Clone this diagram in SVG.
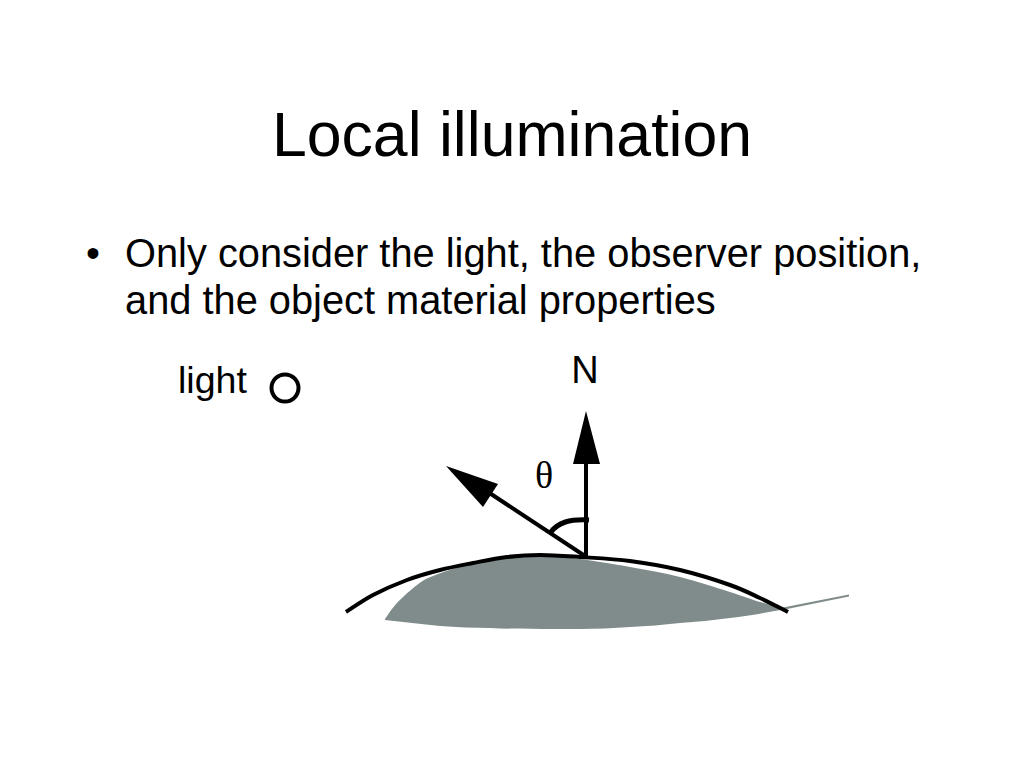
<svg xmlns="http://www.w3.org/2000/svg" width="1024" height="768" viewBox="0 0 1024 768">
<style>
text{font-family:"Liberation Sans",Arial,sans-serif;fill:#000}
.body{font-size:39.800px}
.l{fill:none;stroke:#000;stroke-linecap:butt}
</style>
<rect width="1024" height="768" fill="#fff"/>
<text id="title" x="512" y="156" text-anchor="middle" style="font-size:62.600px">Local illumination</text>
<g id="bullets">
<text x="86" y="267" class="body">•</text>
<text x="125" y="267" class="body">Only consider the light, the observer position,</text>
<text x="125" y="314" class="body">and the object material properties</text>
</g>
<g id="surface-shape">
<path d="M385 619C387 616.300 391.700 608.700 397 603C402.300 597.300 411 589.500 417 585C423 580.500 423.700 579.700 433 576C442.300 572.300 460.700 566.200 473 563C485.300 559.800 493 558.500 507 557.500C521 556.500 544.800 557 557 557C569.200 557 567.800 557.300 580 559C592.200 560.700 613.300 564 630 567C646.700 570 663.300 572.800 680 577C696.700 581.200 716.700 587.800 730 592C743.300 596.200 750 599 760 602C768 604.500 776 606.500 783 607.500L849 594.500L849 596.500L787 609C768 612 749 616 730 618C713 620 697 622 680 623C663 625 647 626 630 627C613 628 597 629 580 629L555 629C533 629 512 629 490 628C473 628 457 627 440 626C421 624 403 622 385 620Z" fill="#7f8c8b"/>
</g>
<g id="surface-line"><path class="l" stroke-width="4" d="M346 612C350.500 609.200 362.800 600.300 373 595C383.200 589.700 395.800 584.200 407 580C418.200 575.800 429 572.800 440 570C451 567.200 461.800 565.200 473 563C484.200 560.800 495.800 558.300 507 557C518.200 555.700 527.800 555 540 555C552.200 555 565 556 580 557C595 558 613.300 558.800 630 561C646.700 563.200 663.300 566 680 570C696.700 574 716.700 580.300 730 585C743.300 589.700 750.300 593.500 760 598C769.700 602.500 778.700 607.300 788 612"/></g>
<g id="light-source">
<text x="178" y="393" style="font-size:37.600px">light</text>
<circle cx="285" cy="388" r="13.500" fill="none" stroke="#000" stroke-width="4"/>
</g>
<g id="normal">
<text x="585" y="383" text-anchor="middle" style="font-size:38px">N</text>
<path class="l" stroke-width="4" d="M586 556V460"/>
<polygon points="586,411 573,464 600,464"/>
</g>
<g id="incident">
<path class="l" stroke-width="4" d="M585 556L488 492"/>
<polygon points="446,466 498,484 483,507"/>
</g>
<g id="angle">
<path class="l" stroke-width="5" d="M550 533C558 522 570 519 589 520"/>
<text x="544" y="488" text-anchor="middle" style="font-size:38px;font-family:'Liberation Serif',serif">θ</text>
</g>
</svg>
